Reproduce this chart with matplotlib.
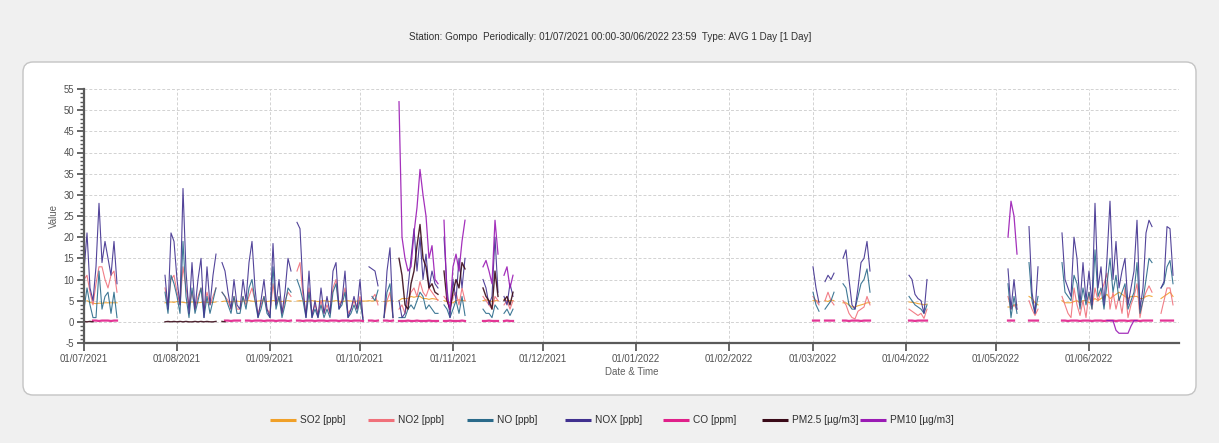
import numpy as np
import pandas as pd
import matplotlib
matplotlib.use("Agg")
import matplotlib.pyplot as plt
import matplotlib.dates as mdates
from matplotlib.ticker import MultipleLocator
from matplotlib.patches import FancyBboxPatch
from matplotlib.colors import LinearSegmentedColormap

plt.rcParams["font.family"] = ["Liberation Sans", "DejaVu Sans"]
plt.rcParams["axes.unicode_minus"] = False

TITLE = "Station: Gompo  Periodically: 01/07/2021 00:00-30/06/2022 23:59  Type: AVG 1 Day [1 Day]"
X_LABEL = "Date & Time"
Y_LABEL = "Value"

SERIES_NAMES = ["SO2 [ppb]", "NO2 [ppb]", "NO [ppb]", "NOX [ppb]", "CO [ppm]",
                "PM2.5 [\u00b5g/m3]", "PM10 [\u00b5g/m3]"]
SERIES_COLORS = ["#f0a028", "#f0707a", "#2a6a8a", "#40308f", "#e0208a",
                 "#3a0a18", "#9a1ab4"]

# Daily averages, stored as (first day, values) runs; missing days are gaps.
SO2 = [
    ("2021-07-02", [5.0, 4.6, 4.4, 4.3, 4.4, 4.4, 4.5, 4.5, 4.5, 4.5, 4.5]),
    ("2021-07-28", [4.5, 4.6, 4.7, 4.6, 4.8, 4.7, 4.6, 4.5, 4.6, 4.7, 4.6, 4.5,
                    4.6, 4.7, 4.6, 4.5, 4.6, 4.7]),
    ("2021-08-16", [4.8, 4.9, 4.8, 4.7, 4.8, 4.9, 4.8, 4.9]),
    ("2021-08-24", [4.9, 5.0, 4.9, 4.8, 4.9, 5.0, 4.9, 4.8, 4.9, 5.0, 5.0, 4.9,
                    4.8, 4.9, 5.0, 4.9]),
    ("2021-09-10", [4.9, 5.0, 4.9, 4.8, 4.9, 5.0, 4.9, 4.8, 4.9, 5.0, 4.9, 4.8,
                    4.9, 5.0, 4.9, 4.8, 4.9, 5.0, 4.9, 4.8, 4.9, 5.0, 4.9, 4.9,
                    5.0, 4.9, 5.0, 4.9]),
    ("2021-10-09", [4.8, 4.9, 5.0, 4.9]),
    ("2021-10-14", [5.0, 5.5, 5.5, 5.5, 6.0, 5.8, 6.0, 6.0, 5.5, 5.5, 5.3, 5.5,
                    5.4, 5.2]),
    ("2021-10-29", [5.0, 4.8, 4.5, 4.5, 5.0, 5.2, 5.0, 5.0]),
    ("2021-11-11", [5.0, 5.2, 5.0, 4.8, 5.0, 5.0]),
    ("2021-11-18", [5.3, 5.0, 5.0, 5.0]),
    ("2022-03-01", [5.0, 5.0, 4.8]),
    ("2022-03-05", [5.0, 4.8, 5.2, 5.0]),
    ("2022-03-11", [4.5, 4.5, 4.0, 3.5, 3.5, 3.8, 4.0, 4.2, 4.5, 4.5]),
    ("2022-04-02", [4.7, 4.6, 4.5, 4.3, 4.2, 4.0, 4.2]),
    ("2022-05-05", [3.5, 3.5, 4.0, 4.0]),
    ("2022-05-12", [6.0, 5.5, 4.5, 4.0]),
    ("2022-05-23", [5.0, 4.5, 4.5, 4.5, 4.8, 5.0, 4.5, 5.0, 5.0, 4.5, 5.0, 5.5,
                    5.0, 5.5, 6.0, 6.5, 5.5, 6.0, 6.5, 7.0, 6.5, 6.0, 5.5, 6.0,
                    6.0, 6.0, 5.5, 5.5, 6.0, 6.2, 6.0]),
    ("2022-06-25", [5.5, 6.0, 6.5, 7.0, 6.0]),
]

NO2 = [
    ("2021-07-01", [10, 11, 7, 4, 9, 13, 13, 10, 8, 11, 12, 7]),
    ("2021-07-28", [8, 4, 10, 11, 7, 4, 13, 8, 4, 7, 3, 6, 8, 3, 7, 4, 6, 8]),
    ("2021-08-16", [7, 6, 5, 3, 6, 3, 3, 6]),
    ("2021-08-24", [4, 6, 8, 5, 2, 4, 6, 3, 2, 9, 4, 6, 2, 5, 7, 6]),
    ("2021-09-10", [12, 14, 6, 2, 8, 2, 4, 2, 5, 2, 4, 2, 8, 10, 4, 5, 8, 2, 3,
                    5, 3, 6, 1]),
    ("2021-10-05", [5.5, 6.5, 4]),
    ("2021-10-09", [1, 5, 7, 1]),
    ("2021-10-14", [3, 4, 2, 5, 7, 8, 6, 9.5, 7, 6, 8, 7, 6, 5]),
    ("2021-10-29", [6, 5, 3, 6, 7, 4, 8, 5]),
    ("2021-11-11", [6, 5, 4, 3, 6, 5]),
    ("2021-11-18", [4, 5, 3, 5]),
    ("2022-03-01", [6, 5, 4]),
    ("2022-03-05", [5, 7, 5, 4]),
    ("2022-03-11", [5, 4, 2, 1, 0.7, 2.5, 3, 3.5, 6, 4]),
    ("2022-04-02", [3, 2.5, 2, 1.5, 2, 0.8, 3]),
    ("2022-05-05", [6, 3, 4, 3]),
    ("2022-05-12", [5, 3, 1.5, 3]),
    ("2022-05-23", [6, 4, 2, 1, 8, 4, 1.5, 5, 1, 7, 3, 8, 5, 7, 9, 11.5, 3, 7,
                    3, 6, 2, 8, 1, 4, 6, 9, 1, 5, 7, 8.5, 7]),
    ("2022-06-25", [2, 5, 8, 8, 4]),
]

NO = [
    ("2021-07-01", [3, 8, 4, 1, 1, 12, 3, 6, 7, 2, 7, 1]),
    ("2021-07-28", [7, 2, 11, 9, 6, 2, 19, 6, 1, 8, 2, 5, 8, 1, 6, 2, 5, 8]),
    ("2021-08-16", [7, 6, 4, 2, 6, 2, 2, 6]),
    ("2021-08-24", [3, 8, 10, 5, 1, 3, 6, 2, 1, 13, 3, 6, 1, 4, 8, 7]),
    ("2021-09-10", [10, 8, 5, 1, 7, 1, 3, 1, 4, 1, 3, 1, 7, 9, 3, 4, 7, 1, 2, 4,
                    2, 5, 0.5]),
    ("2021-10-05", [6, 5, 7.5]),
    ("2021-10-09", [1, 7, 9, 1]),
    ("2021-10-14", [1, 1, 1, 3, 4, 3, 5, 7, 6, 3, 4, 3, 2, 2]),
    ("2021-10-29", [4, 3, 1, 3, 5, 2, 6, 1.5]),
    ("2021-11-11", [3, 2, 2, 1, 4, 3]),
    ("2021-11-18", [2, 3, 1.5, 3]),
    ("2022-03-01", [7, 4, 2.5]),
    ("2022-03-05", [3, 4, 5, 7]),
    ("2022-03-11", [9, 8, 4, 3, 3, 6, 9, 10, 12.5, 7]),
    ("2022-04-02", [6, 5, 4, 3.5, 3, 2, 4]),
    ("2022-05-05", [9, 1, 6, 2]),
    ("2022-05-12", [14, 5, 2, 6]),
    ("2022-05-23", [14, 7, 6, 5, 11, 9, 3, 8, 4, 7, 3, 17, 6, 8, 3, 9, 15, 7,
                    11, 5, 7, 9, 3, 5, 7, 14, 2, 5, 10, 15, 14]),
    ("2022-06-25", [8, 9, 13, 14.5, 9]),
]

NOX = [
    ("2021-07-01", [12, 21, 8, 5, 13, 28, 14, 19, 15, 11, 19, 9]),
    ("2021-07-28", [11, 3, 21, 19, 10, 4, 31.5, 12, 2, 14, 3, 10, 15, 1, 13, 4,
                    11, 16]),
    ("2021-08-16", [14, 12, 7, 3, 10, 4, 3, 10]),
    ("2021-08-24", [5, 14, 19, 8, 1, 5, 10, 3, 1, 18.5, 4, 10, 2, 7, 15, 12]),
    ("2021-09-10", [23.5, 22, 8, 1, 12, 1, 5, 1, 8, 2, 6, 2, 12, 14, 3, 5, 12,
                    1, 3, 6, 3, 10, 0.5]),
    ("2021-10-04", [13, 12.5, 12, 8.5]),
    ("2021-10-09", [1, 12, 17.5, 1]),
    ("2021-10-14", [5, 1, 2, 8, 15, 22, 12, 20, 10, 16, 8, 12, 9, 8]),
    ("2021-10-29", [20, 8, 1, 10, 5, 15, 8, 15]),
    ("2021-11-11", [10, 8, 4, 6, 20, 7]),
    ("2021-11-18", [6, 4, 9, 6]),
    ("2022-03-01", [13, 8, 4.5]),
    ("2022-03-05", [9.5, 11, 10, 11.5]),
    ("2022-03-11", [15, 17, 10, 4, 3, 8, 14, 15, 19, 12]),
    ("2022-04-02", [11, 10, 6.5, 5.5, 5, 2, 10]),
    ("2022-05-05", [12.5, 3, 10, 3]),
    ("2022-05-12", [22.5, 7, 2, 13]),
    ("2022-05-23", [21, 10, 8, 6, 20, 15, 4, 14, 5, 12, 4, 28, 8, 13, 4, 15,
                    28.5, 10, 19, 8, 12, 15, 4, 8, 12, 24, 3, 8, 21, 24, 22.5]),
    ("2022-06-25", [8, 9.5, 22.5, 22, 11]),
]

CO = [
    ("2021-07-04", [0.3, 0.3, 0.2, 0.3, 0.3, 0.3, 0.2, 0.3, 0.3]),
    ("2021-08-17", [0.3, 0.3, 0.2, 0.3, 0.3, 0.3]),
    ("2021-08-24", [0.3, 0.3, 0.2, 0.3, 0.3, 0.3, 0.2, 0.3, 0.3, 0.3, 0.2, 0.3,
                    0.3, 0.3, 0.2, 0.3]),
    ("2021-09-10", [0.3, 0.3, 0.2, 0.3, 0.3, 0.3, 0.2, 0.3, 0.3, 0.3, 0.2, 0.3,
                    0.3, 0.3, 0.2, 0.3, 0.3, 0.3, 0.2, 0.3, 0.3, 0.3, 0.2]),
    ("2021-10-04", [0.3, 0.3, 0.2, 0.3]),
    ("2021-10-09", [0.3, 0.3, 0.2, 0.3]),
    ("2021-10-14", [0.2, 0.2, 0.2, 0.3, 0.2, 0.2, 0.3, 0.2, 0.2, 0.2, 0.3, 0.2,
                    0.2, 0.2]),
    ("2021-10-29", [0.2, 0.2, 0.3, 0.2, 0.2, 0.2, 0.3, 0.2]),
    ("2021-11-11", [0.2, 0.2, 0.3, 0.2, 0.2, 0.2]),
    ("2021-11-18", [0.2, 0.3, 0.2, 0.2]),
    ("2022-03-01", [0.3, 0.3, 0.3]),
    ("2022-03-05", [0.3, 0.3, 0.3, 0.3]),
    ("2022-03-11", [0.3, 0.3, 0.2, 0.3, 0.3, 0.3, 0.2, 0.3, 0.3, 0.3]),
    ("2022-04-02", [0.3, 0.3, 0.2, 0.3, 0.3, 0.3, 0.3]),
    ("2022-05-05", [0.3, 0.3, 0.3]),
    ("2022-05-12", [0.3, 0.3, 0.3, 0.3]),
    ("2022-05-23", [0.3, 0.3, 0.2, 0.3, 0.3, 0.3, 0.2, 0.3, 0.3, 0.3, 0.2, 0.3,
                    0.3, 0.3, 0.2, 0.3, 0.3, 0.3, 0.2, 0.3, 0.3, 0.3, 0.2, 0.3,
                    0.3, 0.3, 0.2, 0.3, 0.3, 0.3, 0.3]),
    ("2022-06-25", [0.3, 0.3, 0.3, 0.3, 0.3]),
]

PM25 = [
    ("2021-07-01", [0.1, 0.0, 0.1, 0.0]),
    ("2021-07-28", [0.0, 0.1, 0.0, 0.1, 0.0, 0.1, 0.0, 0.1, 0.0, 0.0, 0.1, 0.0,
                    0.1, 0.0, 0.1, 0.0, 0.0, 0.1]),
    ("2021-08-16", [0.1, 0.0]),
    ("2021-10-14", [15, 11, 4, 3, 9, 12, 18, 23, 15, 13, 8, 9, 7, 6.5]),
    ("2021-10-29", [12, 5, 3, 7, 10, 8, 14, 12.5]),
    ("2021-11-11", [8, 6, 5, 3, 12, 6]),
    ("2021-11-18", [5, 6, 4, 7]),
]

PM10 = [
    ("2021-10-14", [52, 20, 15, 12, 13, 21, 27, 36, 30, 25, 15, 18, 10, 9]),
    ("2021-10-29", [24, 6, 3, 13, 16, 12, 19, 24]),
    ("2021-11-11", [13, 14.5, 12, 9, 24, 16]),
    ("2021-11-18", [11, 13, 8, 11]),
    ("2022-05-05", [20, 28.5, 25, 16]),
    ("2022-06-07", [0.3, 0.3, 0.3, -2.0, -2.7, -2.7, -2.7, -2.7, -1.0, 0.3, 0.3]),
]

ALL_SERIES = [SO2, NO2, NO, NOX, CO, PM25, PM10]
LINE_WIDTHS = [0.8, 0.8, 0.8, 0.8, 1.6, 1.0, 0.9]

DAYS = pd.date_range("2021-07-01", "2022-06-30", freq="D")


def to_daily(runs):
    s = pd.Series(np.nan, index=DAYS)
    for first, values in runs:
        idx = pd.date_range(first, periods=len(values), freq="D")
        s.loc[idx] = values
    return s


W, H = 1219, 443
fig = plt.figure(figsize=(W / 100, H / 100), dpi=100)
fig.patch.set_facecolor("#f0f0f0")

# Pixel-space background layer: rounded white panel with a soft vertical gradient
bg = fig.add_axes([0, 0, 1, 1], zorder=-10)
bg.set_xlim(0, W)
bg.set_ylim(H, 0)
bg.axis("off")
panel = FancyBboxPatch((23, 62), 1173, 333,
                       boxstyle="round,pad=0,rounding_size=10",
                       fc="white", ec="#c4c4c4", lw=1.0)
bg.add_patch(panel)
grad = np.linspace(0, 1, 256).reshape(-1, 1)
cmap = LinearSegmentedColormap.from_list("panel", ["#ffffff", "#fcfcfc", "#ebebeb"])
im = bg.imshow(grad, extent=(23, 1196, 395, 62), cmap=cmap, aspect="auto",
               interpolation="bilinear")
im.set_clip_path(panel)
bg.set_xlim(0, W)
bg.set_ylim(H, 0)

bg.text(610, 37, TITLE, ha="center", va="center", fontsize=7.1, color="#303030")

# Plot area
x0, x1, y0, y1 = 84, 1179, 89, 343
ax = fig.add_axes([x0 / W, 1 - y1 / H, (x1 - x0) / W, (y1 - y0) / H])
ax.patch.set_alpha(0)

for runs, color, lw in zip(ALL_SERIES, SERIES_COLORS, LINE_WIDTHS):
    s = to_daily(runs)
    ax.plot(s.index, s.values, color=color, lw=lw, alpha=0.9,
            solid_joinstyle="round")

ax.set_xlim(pd.Timestamp("2021-07-01"), pd.Timestamp("2022-06-30 23:59"))
ax.set_ylim(-5, 55)
ax.xaxis.set_major_locator(mdates.MonthLocator(bymonthday=1))
ax.xaxis.set_major_formatter(mdates.DateFormatter("%d/%m/%Y"))
ax.yaxis.set_major_locator(MultipleLocator(5))
ax.yaxis.set_minor_locator(MultipleLocator(1))

ax.grid(True, which="major", color="#d2d2d2", linestyle=(0, (3, 2)), lw=0.7)
ax.set_axisbelow(True)
for side in ("top", "right"):
    ax.spines[side].set_visible(False)
for side in ("left", "bottom"):
    ax.spines[side].set_color("#5a5a5a")
    ax.spines[side].set_linewidth(1.6)

ax.tick_params(axis="both", which="major", direction="out", length=5, width=1.3,
               color="#5a5a5a", labelcolor="#505050", labelsize=6.9, pad=2)
ax.tick_params(axis="y", which="minor", direction="out", length=3, width=1.0,
               color="#5a5a5a")
ax.tick_params(axis="x", which="major", length=6)

ax.set_ylabel(Y_LABEL, fontsize=7.0, color="#606060")
ax.yaxis.set_label_coords(-0.0225, 0.5)
ax.set_xlabel(X_LABEL, fontsize=7.0, color="#606060")
ax.xaxis.set_label_coords(0.5, -0.094)

# Legend row below the panel
for i, (name, color) in enumerate(zip(SERIES_NAMES, SERIES_COLORS)):
    lx = 270 + 98.3 * i
    bg.plot([lx, lx + 26], [420, 420], color=color, lw=2.2, solid_capstyle="butt")
    bg.text(lx + 30, 420, name, ha="left", va="center", fontsize=7.3,
            color="#303030")

fig.savefig("out.png", dpi=100, facecolor=fig.get_facecolor())
